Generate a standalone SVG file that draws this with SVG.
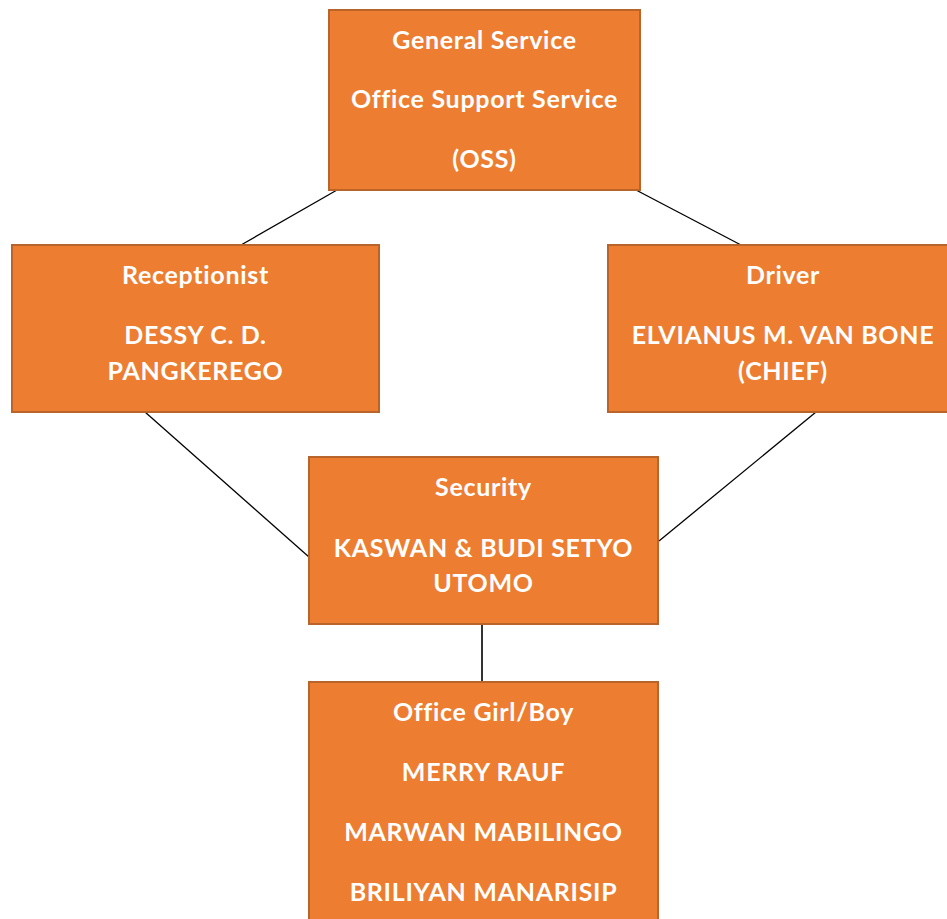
<svg xmlns="http://www.w3.org/2000/svg" width="947" height="919" viewBox="0 0 947 919">
<style>
.box{fill:#ED7D31;stroke:#B8642A;stroke-width:2}
.t{font-family:Lato,"Open Sans","Liberation Sans",sans-serif;font-weight:bold;font-size:25px;letter-spacing:0.7px;fill:#FFFFFF;text-anchor:middle}
.c{stroke:#000000;stroke-width:1.3;fill:none}
</style>
<rect width="947" height="919" fill="#FFFFFF"/>
<g id="connectors">
<line class="c" x1="337" y1="190" x2="241" y2="245"/>
<line class="c" x1="636" y1="190" x2="741" y2="245"/>
<line class="c" x1="145" y1="412" x2="309" y2="557"/>
<line class="c" x1="816" y1="412" x2="659" y2="541"/>
<line class="c" x1="482" y1="624" x2="482" y2="682" style="stroke:#333;stroke-width:2"/>
</g>
<g id="oss">
<rect class="box" x="329" y="10" width="311" height="180"/>
<text class="t" x="484.5" y="49">General Service</text>
<text class="t" x="484.5" y="108">Office Support Service</text>
<text class="t" x="484.5" y="168">(OSS)</text>
</g>
<g id="receptionist">
<rect class="box" x="12" y="245" width="367" height="167"/>
<text class="t" x="195.5" y="284">Receptionist</text>
<text class="t" x="195.5" y="344">DESSY C. D.</text>
<text class="t" x="195.5" y="380">PANGKEREGO</text>
</g>
<g id="driver">
<rect class="box" x="608" y="245" width="350" height="167"/>
<text class="t" x="783" y="284">Driver</text>
<text class="t" x="783" y="344">ELVIANUS M. VAN BONE</text>
<text class="t" x="783" y="380">(CHIEF)</text>
</g>
<g id="security">
<rect class="box" x="309" y="457" width="349" height="167"/>
<text class="t" x="483.5" y="496">Security</text>
<text class="t" x="483.5" y="557">KASWAN &amp; BUDI SETYO</text>
<text class="t" x="483.5" y="592">UTOMO</text>
</g>
<g id="office">
<rect class="box" x="309" y="682" width="349" height="250"/>
<text class="t" x="483.5" y="721">Office Girl/Boy</text>
<text class="t" x="483.5" y="781">MERRY RAUF</text>
<text class="t" x="483.5" y="841">MARWAN MABILINGO</text>
<text class="t" x="483.5" y="901">BRILIYAN MANARISIP</text>
</g>
</svg>
